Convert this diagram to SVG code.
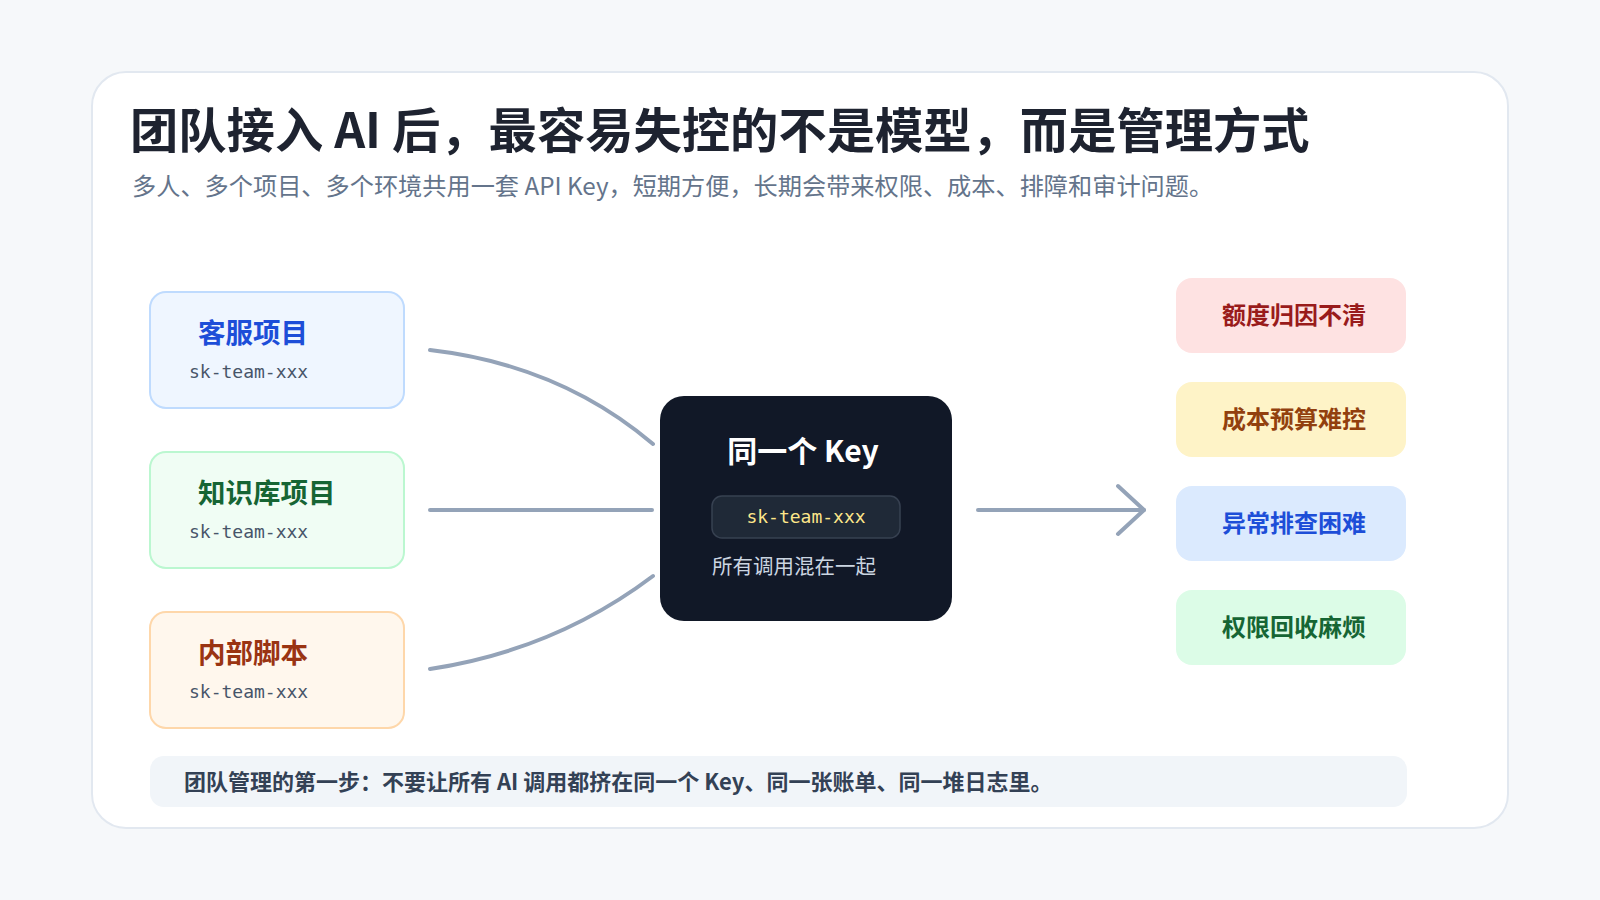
<svg xmlns="http://www.w3.org/2000/svg" width="1600" height="900" viewBox="0 0 1600 900">
<style>
.cjk{font-family:"Noto Sans CJK SC","Noto Sans",sans-serif}
.mono{font-family:"DejaVu Sans Mono","Liberation Mono",monospace;font-size:18px}
.lbl{font-size:27.5px;font-weight:700}
.pill{font-size:24px;font-weight:700}
.conn{fill:none;stroke:#94a3b8;stroke-width:4;stroke-linecap:round;stroke-linejoin:round}
</style>
<rect x="0" y="0" width="1600" height="900" fill="#f6f8fa"/>
<rect x="92" y="72" width="1416" height="756" rx="34" fill="#ffffff" stroke="#e2e8f0" stroke-width="2"/>
<text class="cjk" x="130" y="148" font-size="48.3" font-weight="700" fill="#1e2330">团队接入 AI 后，最容易失控的不是模型，而是管理方式</text>
<text class="cjk" x="132" y="195" font-size="24.2" fill="#64748b">多人、多个项目、多个环境共用一套 API Key，短期方便，长期会带来权限、成本、排障和审计问题。</text>

<g id="connectors">
<path class="conn" d="M430 350 Q560 365 653 444"/>
<path class="conn" d="M430 510 L652 510"/>
<path class="conn" d="M430 669 Q555 650 653 576"/>
<path class="conn" d="M978 510 L1144 510"/>
<path class="conn" d="M1118 486 L1144 510 L1118 534"/>
</g>

<g id="node-kefu">
<rect x="150" y="292" width="254" height="116" rx="16" fill="#eff6ff" stroke="#bfdbfe" stroke-width="2"/>
<text class="cjk lbl" x="198" y="343" fill="#1d4ed8">客服项目</text>
<text class="mono" x="189" y="378" fill="#475569">sk-team-xxx</text>
</g>
<g id="node-kb">
<rect x="150" y="452" width="254" height="116" rx="16" fill="#f0fdf4" stroke="#bbf7d0" stroke-width="2"/>
<text class="cjk lbl" x="198" y="503" fill="#166534">知识库项目</text>
<text class="mono" x="189" y="538" fill="#475569">sk-team-xxx</text>
</g>
<g id="node-script">
<rect x="150" y="612" width="254" height="116" rx="16" fill="#fff7ed" stroke="#fed7aa" stroke-width="2"/>
<text class="cjk lbl" x="198" y="663" fill="#9a3412">内部脚本</text>
<text class="mono" x="189" y="698" fill="#475569">sk-team-xxx</text>
</g>

<g id="node-key">
<rect x="660" y="396" width="292" height="225" rx="24" fill="#111827"/>
<text class="cjk" x="803" y="462" font-size="30" font-weight="700" fill="#ffffff" text-anchor="middle">同一个 Key</text>
<rect x="712" y="496" width="188" height="42" rx="10" fill="#1f2937" stroke="#374151" stroke-width="1.5"/>
<text class="mono" x="806" y="523" fill="#fde68a" text-anchor="middle">sk-team-xxx</text>
<text class="cjk" x="794" y="574" font-size="20.5" fill="#cbd5e1" text-anchor="middle">所有调用混在一起</text>
</g>

<g id="issue-quota">
<rect x="1176" y="278" width="230" height="75" rx="16" fill="#fee2e2"/>
<text class="cjk pill" x="1294" y="324" fill="#991b1b" text-anchor="middle">额度归因不清</text>
</g>
<g id="issue-cost">
<rect x="1176" y="382" width="230" height="75" rx="16" fill="#fef3c7"/>
<text class="cjk pill" x="1294" y="428" fill="#92400e" text-anchor="middle">成本预算难控</text>
</g>
<g id="issue-debug">
<rect x="1176" y="486" width="230" height="75" rx="16" fill="#dbeafe"/>
<text class="cjk pill" x="1294" y="532" fill="#1d4ed8" text-anchor="middle">异常排查困难</text>
</g>
<g id="issue-perm">
<rect x="1176" y="590" width="230" height="75" rx="16" fill="#dcfce7"/>
<text class="cjk pill" x="1294" y="636" fill="#166534" text-anchor="middle">权限回收麻烦</text>
</g>

<g id="footer">
<rect x="150" y="756" width="1257" height="51" rx="14" fill="#f1f5f9"/>
<text class="cjk" x="184" y="790" font-size="22" font-weight="700" fill="#334155">团队管理的第一步：不要让所有 AI 调用都挤在同一个 Key、同一张账单、同一堆日志里。</text>
</g>
</svg>
